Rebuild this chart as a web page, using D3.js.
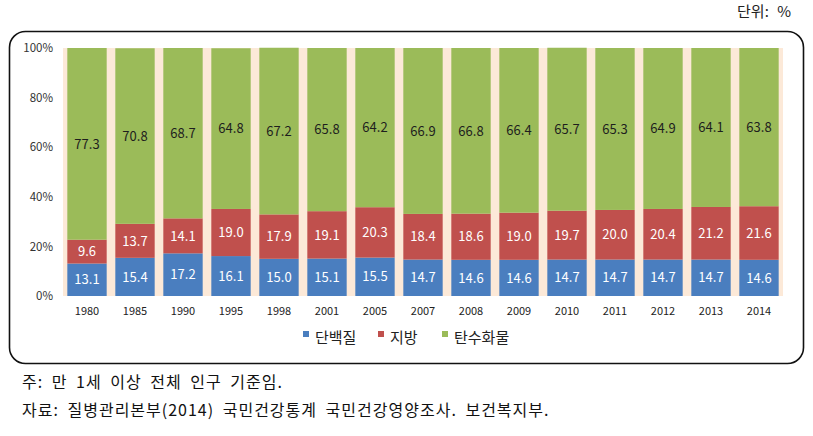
<!DOCTYPE html>
<html><head><meta charset="utf-8">
<script src="https://cdn.jsdelivr.net/npm/d3@7"></script>
<style>body{margin:0;background:#fff;}svg{display:block;}</style>
</head><body>
<svg id="c" width="813" height="436"></svg>
<script>
const years = ["1980","1985","1990","1995","1998","2001","2005","2007","2008","2009","2010","2011","2012","2013","2014"];
const protein = [13.1,15.4,17.2,16.1,15.0,15.1,15.5,14.7,14.6,14.6,14.7,14.7,14.7,14.7,14.6];
const fat = [9.6,13.7,14.1,19.0,17.9,19.1,20.3,18.4,18.6,19.0,19.7,20.0,20.4,21.2,21.6];
const carb = [77.3,70.8,68.7,64.8,67.2,65.8,64.2,66.9,66.8,66.4,65.7,65.3,64.9,64.1,63.8];
const seriesNames = ["단백질","지방","탄수화물"];
const yTicks = [0,20,40,60,80,100];
const colors = ["#4a7ebf","#c0504d","#9bbb59"];
const labelColors = ["#ffffff","#ffffff","#1e1e1e"];

const svg = d3.select("#c");
const font = "'Noto Sans CJK KR','Noto Sans',sans-serif";

// unit
svg.append("text").attr("x",791).attr("y",17).attr("text-anchor","end")
  .attr("font-family",font).attr("font-size",15).attr("word-spacing",5).attr("fill","#222").text("단위: %");

// frame
svg.append("rect").attr("x",9.5).attr("y",31.5).attr("width",794).attr("height",332)
  .attr("rx",16).attr("fill","#fff").attr("stroke","#111").attr("stroke-width",1.6);

const x = d3.scaleBand().domain(years).range([63,783]).paddingInner(0.18).paddingOuter(0.09);
const y = d3.scaleLinear().domain([0,100]).range([296,48]);

// plot background
svg.append("rect").attr("x",63).attr("y",y(100)).attr("width",720).attr("height",y(0)-y(100)).attr("fill","#fce9d8");

const data = years.map((yr,i)=>({year:yr, "단백질":protein[i], "지방":fat[i], "탄수화물":carb[i]}));
const stack = d3.stack().keys(seriesNames)(data);

stack.forEach((s,si)=>{
  const g = svg.append("g");
  g.selectAll("rect").data(s).join("rect")
    .attr("x",d=>x(d.data.year)).attr("width",x.bandwidth())
    .attr("y",d=>y(d[1])).attr("height",d=>y(d[0])-y(d[1]))
    .attr("fill",colors[si]);
  g.selectAll("text").data(s).join("text")
    .attr("x",d=>x(d.data.year)+x.bandwidth()/2)
    .attr("y",d=>y((d[0]+d[1])/2))
    .attr("dy","0.36em").attr("text-anchor","middle")
    .attr("font-family",font).attr("font-size",13).attr("fill",labelColors[si])
    .text(d=>(d[1]-d[0]).toFixed(1));
});

// y axis
const ya = svg.append("g").attr("transform","translate(63,0)")
  .call(d3.axisLeft(y).tickValues(yTicks).tickFormat(d=>d+"%").tickSize(0).tickPadding(10));
ya.select(".domain").remove();
ya.selectAll("text").attr("font-family",font).attr("font-size",11.5).attr("fill","#333");

// x axis
const xa = svg.append("g").attr("transform","translate(0,296)")
  .call(d3.axisBottom(x).tickSize(0).tickPadding(11));
xa.select(".domain").remove();
xa.selectAll("text").attr("font-family",font).attr("font-size",11).attr("fill","#222");

// legend
const legX = [303,378,442];
seriesNames.forEach((n,i)=>{
  svg.append("rect").attr("x",legX[i]).attr("y",331).attr("width",6).attr("height",6).attr("fill",colors[i]);
  svg.append("text").attr("x",legX[i]+12).attr("y",343).attr("font-family",font)
    .attr("font-size",15).attr("fill","#222").text(n);
});

// notes
svg.append("text").attr("x",22).attr("y",388).attr("font-family",font).attr("font-size",16)
  .attr("letter-spacing",1).attr("word-spacing",4).attr("fill","#111")
  .text("주: 만 1세 이상 전체 인구 기준임.");
svg.append("text").attr("x",22).attr("y",416).attr("font-family",font).attr("font-size",16)
  .attr("letter-spacing",1).attr("word-spacing",4).attr("fill","#111")
  .text("자료: 질병관리본부(2014) 국민건강통계 국민건강영양조사. 보건복지부.");
</script>
</body></html>
